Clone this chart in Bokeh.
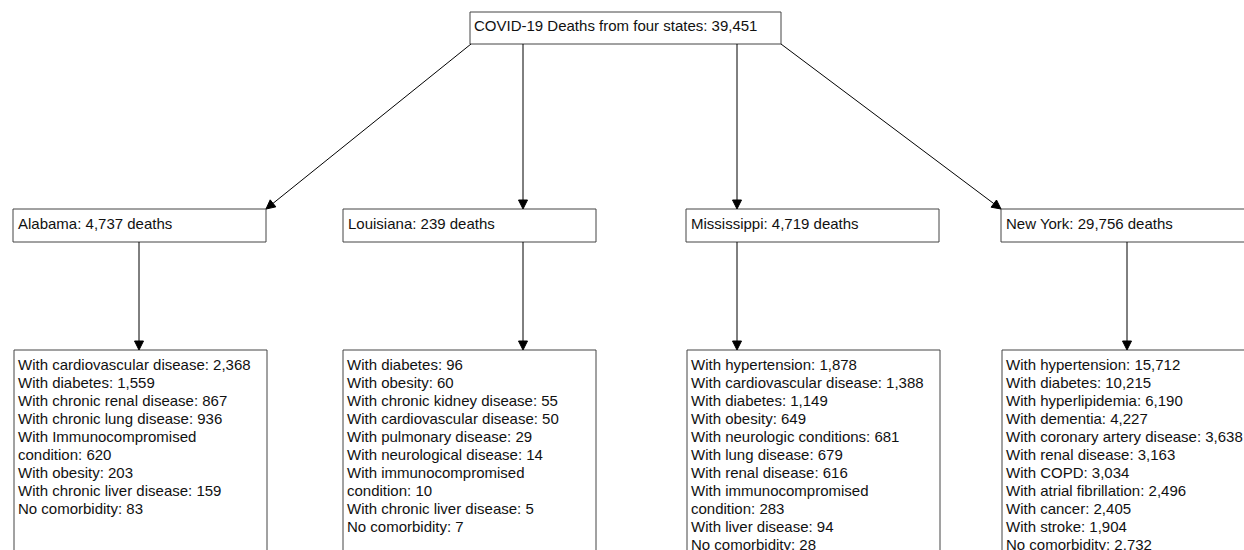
from bokeh.plotting import figure
from bokeh.models import Range1d, ColumnDataSource, Arrow, NormalHead
from bokeh.core.properties import value
from bokeh.embed import file_html
from bokeh.resources import INLINE

# ---------------- data ----------------
title_label = "COVID-19 Deaths from four states"
total_deaths = 39451
states = ["Alabama", "Louisiana", "Mississippi", "New York"]
state_deaths = [4737, 239, 4719, 29756]

alabama_labels = ["With cardiovascular disease", "With diabetes", "With chronic renal disease",
                  "With chronic lung disease", "With Immunocompromised\ncondition", "With obesity",
                  "With chronic liver disease", "No comorbidity"]
alabama_counts = [2368, 1559, 867, 936, 620, 203, 159, 83]

louisiana_labels = ["With diabetes", "With obesity", "With chronic kidney disease",
                    "With cardiovascular disease", "With pulmonary disease", "With neurological disease",
                    "With immunocompromised\ncondition", "With chronic liver disease", "No comorbidity"]
louisiana_counts = [96, 60, 55, 50, 29, 14, 10, 5, 7]

mississippi_labels = ["With hypertension", "With cardiovascular disease", "With diabetes", "With obesity",
                      "With neurologic conditions", "With lung disease", "With renal disease",
                      "With immunocompromised\ncondition", "With liver disease", "No comorbidity"]
mississippi_counts = [1878, 1388, 1149, 649, 681, 679, 616, 283, 94, 28]

newyork_labels = ["With hypertension", "With diabetes", "With hyperlipidemia", "With dementia",
                  "With coronary artery disease", "With renal disease", "With COPD",
                  "With atrial fibrillation", "With cancer", "With stroke", "No comorbidity"]
newyork_counts = [15712, 10215, 6190, 4227, 3638, 3163, 3034, 2496, 2405, 1904, 2732]

details = [(alabama_labels, alabama_counts), (louisiana_labels, louisiana_counts),
           (mississippi_labels, mississippi_counts), (newyork_labels, newyork_counts)]

# ---------------- layout (pixel-like coordinates) ----------------
FONT = value("Liberation Sans")
FS = "15px"
BORDER = "#444444"
PAD = 5
BASE_OFF = 14.3
LINE_H = 18.0

top_box = dict(left=469.5, right=780.5, top=11.5, bottom=43.5)
state_left = [12.5, 342.5, 685.5, 1000.5]
box_w = 253
state_top, state_bottom = 208.5, 241.5
detail_left = [13.5, 342.5, 686.5, 1001.5]
detail_top, detail_bottom = 349.5, 620
top_arrow_x = [470.5, 522.5, 736.5, 780.5]
vert_arrow_x = [138.5, 522.5, 736.5, 1126.5]

W, H = 1244, 550
p = figure(width=W, height=H, output_backend="svg", toolbar_location=None,
           x_range=Range1d(0, W), y_range=Range1d(H, 0),
           x_axis_type=None, y_axis_type=None, min_border=0)
p.grid.visible = False
p.outline_line_color = None
p.background_fill_color = "white"

# boxes
lefts = [top_box["left"]] + state_left + detail_left
rights = [top_box["right"]] + [l + box_w for l in state_left] + [l + box_w for l in detail_left]
tops = [top_box["top"]] + [state_top] * 4 + [detail_top] * 4
bottoms = [top_box["bottom"]] + [state_bottom] * 4 + [detail_bottom] * 4
p.quad(left=lefts, right=rights, top=tops, bottom=bottoms,
       fill_color="white", line_color=BORDER, line_width=1)

# texts
tx, ty, tt = [], [], []
tx.append(top_box["left"] + PAD - 1)
ty.append(top_box["top"] + BASE_OFF - 1)
tt.append(f"{title_label}: {total_deaths:,}")
for i, (s, d) in enumerate(zip(states, state_deaths)):
    tx.append(state_left[i] + PAD)
    ty.append(state_top + BASE_OFF)
    tt.append(f"{s}: {d:,} deaths")
for i, (labels, counts) in enumerate(details):
    lines = []
    for lab, c in zip(labels, counts):
        lines.extend(f"{lab}: {c:,}".split("\n"))
    for j, ln in enumerate(lines):
        tx.append(detail_left[i] + PAD - 1)
        ty.append(detail_top + BASE_OFF + j * LINE_H)
        tt.append(ln)
p.text(x=tx, y=ty, text=tt, text_font=FONT, text_font_size=FS,
       text_baseline="alphabetic", text_align="left", text_color="#111111")

# arrows
ends_x = [state_left[0] + box_w, top_arrow_x[1], top_arrow_x[2], state_left[3]]
src1 = ColumnDataSource(dict(xs=top_arrow_x, ys=[top_box["bottom"]] * 4,
                             xe=ends_x, ye=[state_top] * 4))
p.add_layout(Arrow(end=NormalHead(size=9, fill_color="black", line_color="black", line_width=1),
                   x_start="xs", y_start="ys", x_end="xe", y_end="ye", source=src1,
                   line_color="black", line_width=1))
src2 = ColumnDataSource(dict(xs=vert_arrow_x, ys=[state_bottom] * 4,
                             xe=vert_arrow_x, ye=[detail_top] * 4))
p.add_layout(Arrow(end=NormalHead(size=9, fill_color="black", line_color="black", line_width=1),
                   x_start="xs", y_start="ys", x_end="xe", y_end="ye", source=src2,
                   line_color="black", line_width=1))

open("out.html", "w").write(file_html(p, INLINE))
